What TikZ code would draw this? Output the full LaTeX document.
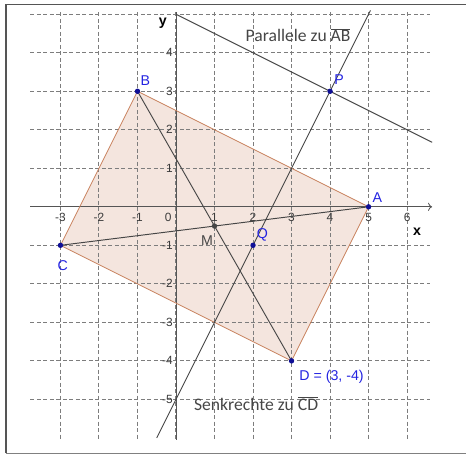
\documentclass[tikz,border=0pt]{standalone}
\usepackage{fontspec}
\setmainfont{Liberation Sans}
\newfontfamily\linefont{Carlito}
\usetikzlibrary{arrows.meta,positioning}
\definecolor{gridgray}  {RGB}{125,125,125}
\definecolor{axisgray}  {RGB}{85,85,85}
\definecolor{tickgray}  {RGB}{60,60,60}
\definecolor{rectfill}  {RGB}{244,229,222}
\definecolor{rectedge}  {RGB}{200,128,92}
\definecolor{ptblue}    {RGB}{15,15,150}
\definecolor{labelblue} {RGB}{35,35,225}
\definecolor{linegray}  {RGB}{70,70,70}
\tikzset{
  gridline/.style ={gridgray, dash pattern=on 3pt off 1.8pt, line width=0.75pt},
  axisline/.style ={axisgray, line width=0.6pt},
  constr/.style   ={linegray, line width=0.7pt},
  rectside/.style ={rectedge, line width=0.6pt},
  pt/.style       ={circle, fill=ptblue, inner sep=0pt, minimum size=4pt},
  mpt/.style      ={pt, fill=linegray},
  ptlabel/.style  ={text=labelblue, font=\fontsize{10.5}{12}\selectfont, inner sep=1pt},
  ticklabel/.style={text=tickgray, font=\fontsize{8.8}{10}\selectfont, inner sep=1pt},
  axlabel/.style  ={text=black, font=\fontsize{10.5}{12}\selectfont\bfseries, inner sep=1pt},
  linelabel/.style={text=linegray, font=\linefont\fontsize{13}{15}\selectfont, inner sep=1pt},
}

\begin{document}
\begin{tikzpicture}[x=1cm,y=1cm]
  \useasboundingbox (-4.57,-6.45) rectangle (7.53,5.37);
  % frame
  \draw[axisgray, line width=1.3pt] (7.53,5.25) -- (-4.42,5.25) -- (-4.42,-6.40);
  \draw[gray, line width=0.5pt] (-4.42,-6.40) -- (7.53,-6.40);
  % points
  \coordinate (A) at (5,0);
  \coordinate (B) at (-1,3);
  \coordinate (C) at (-3,-1);
  \coordinate (D) at (3,-4);
  \coordinate (M) at (1,-0.5);
  \coordinate (P) at (4,3);
  \coordinate (Q) at (2,-1);
  % rectangle fill
  \fill[rectfill] (A) -- (B) -- (C) -- (D) -- cycle;
  % grid
  \foreach \x in {-3,...,6}
    \draw[gridline] (\x,5.05) -- (\x,-6.05);
  \foreach \y in {-5,...,5}
    \draw[gridline] (-3.78,\y) -- (6.6,\y);
  % axes
  \coordinate (xl) at (-3.78,0);
  \coordinate (xr) at (6.65,0);
  \coordinate (yb) at (0,-6.05);
  \coordinate (yt) at (0,5.05);
  \draw[axisline, -{To[length=3pt,width=6pt]}] (xl) -- (xr);
  \draw[axisline] (yb) -- (yt);
  \foreach \x in {-3,-2,-1,1,2,3,4,5,6}
    \node[ticklabel] at (\x,-0.27) {\x};
  \node[ticklabel] at (-0.2,-0.27) {0};
  \foreach \y in {-5,...,-1,1,2,3,4}
    \node[ticklabel, anchor=east] at (-0.04,\y) {\y};
  \node[axlabel] (xlab) at (6.26,-0.66) {x};
  \node[axlabel] (ylab) at (-0.34,4.77) {y};
  % rectangle sides
  \draw[rectside] (A) -- (B) -- (C) -- (D) -- cycle;
  % diagonals
  \draw[constr] (B) -- (D);
  \draw[constr] (A) -- (C);
  % perpendicular and parallel
  \coordinate (s1) at (-0.5,-6.0);
  \coordinate (s2) at (5.05,5.1);
  \coordinate (p1) at (0,5);
  \coordinate (p2) at (6.65,1.675);
  \draw[constr] (s1) -- (s2);
  \draw[constr] (p1) -- (p2);
  \node[linelabel] (parlab) at (3.17,4.46) {Parallele zu $\overline{\mbox{AB}}$};
  \node[linelabel] (senklab) at (2.08,-5.1) {Senkrechte zu $\overline{\mbox{CD}}$};
  % dots and labels
  \foreach \p in {A,B,C,D,P,Q}
    \node[pt] (\p dot) at (\p) {};
  \node[mpt] (Mdot) at (M) {};
  \node[ptlabel, above right=0.06cm and 0.06cm of A] {A};
  \node[ptlabel, above right=0.12cm and 0.04cm of B] {B};
  \node[ptlabel, above right=0.13cm and 0.07cm of P] {P};
  \node[ptlabel, above right=0.06cm and 0.06cm of Q] {Q};
  \node[ptlabel, below=0.35cm of C, xshift=0.06cm] {C};
  \node[ptlabel, below right=0.19cm and 0.16cm of D] {D = (3, -4)};
  \node[ptlabel, text=linegray, below left=0.21cm and 0.0cm of M] {M};
\end{tikzpicture}
\end{document}
